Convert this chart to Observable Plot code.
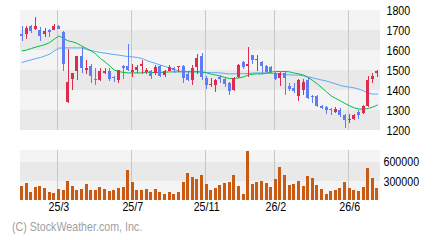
<!DOCTYPE html>
<html><head><meta charset="utf-8">
<script src="https://cdn.jsdelivr.net/npm/d3@7"></script>
<script src="https://cdn.jsdelivr.net/npm/@observablehq/plot@0.6"></script>
<style>
body{margin:0;background:#fff;}
#wrap{position:relative;width:440px;height:240px;font-family:"Liberation Sans",Arial,sans-serif;}
#price{position:absolute;left:0;top:0}
#vol{position:absolute;left:0;top:140px}
#cap{position:absolute;left:12px;top:219px;font-size:13px;color:#a0a0a0;white-space:nowrap;transform:scaleX(0.82);transform-origin:0 0;}
</style></head>
<body><div id="wrap"><div id="price"></div><div id="vol"></div><div id="cap">(C) StockWeather.com, Inc.</div></div>
<script>
const open=[1682,1682,1718,1705,1700,1682,1700,1700,1722,1690,
1340,1457,1497,1570,1500,1522,1457,1452,1487,1497,
1463,1452,1522,1522,1492,1502,1522,1492,1497,1487,
1522,1477,1497,1510,1513,1522,1482,1452,1517,1570,
1462,1427,1427,1467,1457,1437,1402,1467,1540,1522,
1575,1548,1540,1522,1517,1487,1462,1487,1422,1412,
1372,1402,1452,1372,1372,1322,1317,1307,1292,1302,
1277,1252,1257,1290,1287,1322,1457,1487];
const close=[1672,1710,1697,1718,1672,1695,1692,1718,1707,1532,
1440,1485,1570,1510,1510,1472,1452,1497,1497,1457,
1458,1500,1510,1500,1502,1517,1532,1500,1472,1517,
1472,1497,1513,1500,1518,1462,1452,1510,1560,1467,
1427,1432,1452,1457,1432,1397,1462,1527,1517,1530,
1552,1555,1522,1492,1492,1457,1487,1462,1407,1397,
1452,1442,1362,1367,1322,1312,1302,1302,1307,1277,
1252,1257,1277,1277,1322,1452,1472,1497];
const high=[1718,1718,1727,1765,1715,1710,1705,1732,1727,1693,
1607,1485,1570,1615,1550,1530,1510,1510,1510,1510,
1470,1500,1527,1630,1530,1527,1550,1510,1502,1527,
1527,1502,1527,1515,1520,1527,1497,1527,1580,1585,
1472,1462,1457,1477,1462,1440,1467,1532,1543,1615,
1577,1577,1543,1527,1522,1492,1492,1490,1437,1437,
1457,1457,1467,1377,1377,1327,1322,1312,1317,1310,
1280,1282,1282,1300,1327,1472,1487,1502];
const low=[1647,1657,1685,1702,1647,1665,1663,1698,1703,1497,
1335,1402,1452,1485,1480,1435,1427,1447,1482,1447,
1440,1435,1457,1497,1467,1485,1482,1482,1457,1477,
1467,1467,1493,1485,1490,1435,1443,1423,1482,1452,
1407,1417,1392,1437,1417,1377,1397,1462,1507,1467,
1532,1497,1482,1485,1487,1452,1422,1377,1397,1385,
1347,1377,1357,1337,1317,1307,1282,1277,1287,1267,
1212,1237,1252,1257,1280,1317,1437,1467];
const volume=[221000,268000,126000,205000,221000,189000,126000,110000,174000,158000,
300000,221000,158000,174000,253000,158000,158000,205000,174000,142000,
158000,189000,205000,474000,284000,158000,158000,174000,126000,174000,
126000,95000,126000,95000,126000,284000,426000,363000,332000,395000,
253000,158000,189000,237000,268000,284000,395000,221000,95000,774000,
253000,284000,300000,268000,205000,332000,521000,395000,237000,253000,
300000,221000,379000,347000,237000,174000,95000,142000,158000,189000,
284000,189000,158000,142000,205000,505000,347000,189000];
const ma13=[1598,1602,1610,1617,1623,1630,1640,1657,1673,1660,
1648,1643,1635,1622,1610,1598,1582,1560,1543,1523,
1502,1495,1490,1488,1488,1488,1488,1492,1490,1490,
1490,1492,1493,1493,1493,1493,1493,1493,1493,1492,
1488,1482,1477,1472,1465,1460,1460,1463,1468,1477,
1482,1483,1483,1487,1492,1495,1495,1495,1493,1487,
1483,1477,1465,1450,1433,1413,1393,1373,1360,1348,
1335,1323,1313,1307,1307,1310,1317,1327];
const ma26=[1540,1547,1553,1560,1565,1573,1582,1598,1612,1613,
1613,1613,1613,1613,1605,1600,1595,1590,1587,1583,
1580,1577,1573,1570,1568,1565,1560,1550,1542,1535,
1527,1520,1513,1505,1498,1495,1495,1496,1495,1493,
1490,1489,1489,1488,1485,1483,1483,1484,1484,1485,
1487,1488,1488,1487,1485,1483,1482,1480,1478,1477,
1477,1473,1468,1463,1457,1452,1447,1440,1433,1425,
1420,1417,1413,1407,1398,1387,1382,1382];
const xTicks=[8,24,40,55,71];
const xLabels=["25/3","25/7","25/11","26/2","26/6"];
const priceTicks=[1200,1300,1400,1500,1600,1700,1800];
const volTicks=[0,300000,600000,785000];

const RED="#dc2d50", BLUE="#5f7cf5", GREEN="#00c040", LBLUE="#5aaaf5", VOL="#c85a14";
const LIGHT="#f4f4f4", DARK="#e9e9e9", GRID="#c8c8c8";
const FONT='"Liberation Sans",Arial,sans-serif';
const N=open.length;
const idx=d3.range(N);
const half=0.325;
const xDomain=[-half, N-half];
const candles=idx.map(i=>({i,o:open[i],h:high[i],l:low[i],c:close[i],up:close[i]>=open[i]}));
const pBands=priceTicks.slice(0,-1).map((v,k)=>({y1:v,y2:priceTicks[k+1],dark:k%2===0}));
const vBands=volTicks.slice(0,-1).map((v,k)=>({y1:v,y2:volTicks[k+1],dark:k===1}));

function narrow(svg){
  svg.querySelectorAll('text').forEach(t=>{
    const w=t.getComputedTextLength();
    if(w>0){
      t.setAttribute("textLength",(w*0.82).toFixed(2));
      t.setAttribute("lengthAdjust","spacingAndGlyphs");
    }
  });
}

const priceChart=Plot.plot({
  width:440,height:140,marginTop:10,marginBottom:10,marginLeft:20,marginRight:60,
  style:{fontSize:"13px",fontFamily:FONT,color:"#000",background:"transparent"},
  x:{domain:xDomain,axis:null},
  y:{domain:[1200,1800],axis:"right",ticks:priceTicks,tickSize:0,tickPadding:6,tickFormat:d=>String(d),label:null},
  marks:[
    Plot.rect(pBands,{y1:"y1",y2:"y2",fill:d=>d.dark?DARK:LIGHT,shapeRendering:"crispEdges"}),
    Plot.ruleX(xTicks,{x:d=>d,stroke:GRID,dx:-1,shapeRendering:"crispEdges"}),
    Plot.line(idx,{x:d=>d,y:d=>ma26[d],stroke:LBLUE,strokeWidth:1}),
    Plot.line(idx,{x:d=>d,y:d=>ma13[d],stroke:GREEN,strokeWidth:1}),
    Plot.ruleX(candles,{x:"i",y1:"l",y2:"h",stroke:d=>d.up?RED:BLUE,strokeWidth:1,shapeRendering:"crispEdges"}),
    Plot.rect(candles,{x1:d=>d.i-half,x2:d=>d.i+half,y1:"o",y2:"c",fill:d=>d.up?RED:BLUE,shapeRendering:"crispEdges"})
  ]
});
document.getElementById("price").appendChild(priceChart);
narrow(priceChart);

const volChart=Plot.plot({
  width:440,height:80,marginTop:10,marginBottom:20,marginLeft:20,marginRight:60,
  style:{fontSize:"13px",fontFamily:FONT,color:"#000",background:"transparent"},
  x:{domain:xDomain,ticks:xTicks,tickFormat:d=>xLabels[xTicks.indexOf(d)],tickSize:0,tickPadding:1,label:null},
  y:{domain:[0,volTicks[volTicks.length-1]],axis:"right",ticks:volTicks.slice(1,3),tickSize:0,tickPadding:3,tickFormat:d=>String(d),label:null},
  marks:[
    Plot.rect(vBands,{y1:"y1",y2:"y2",fill:d=>d.dark?DARK:LIGHT,shapeRendering:"crispEdges"}),
    Plot.ruleX(xTicks,{x:d=>d,stroke:GRID,dx:-1,shapeRendering:"crispEdges"}),
    Plot.rect(idx,{x1:d=>d-half,x2:d=>d+half,y1:0,y2:d=>volume[d],fill:VOL,shapeRendering:"crispEdges"})
  ]
});
document.getElementById("vol").appendChild(volChart);
narrow(volChart);
</script></body></html>
